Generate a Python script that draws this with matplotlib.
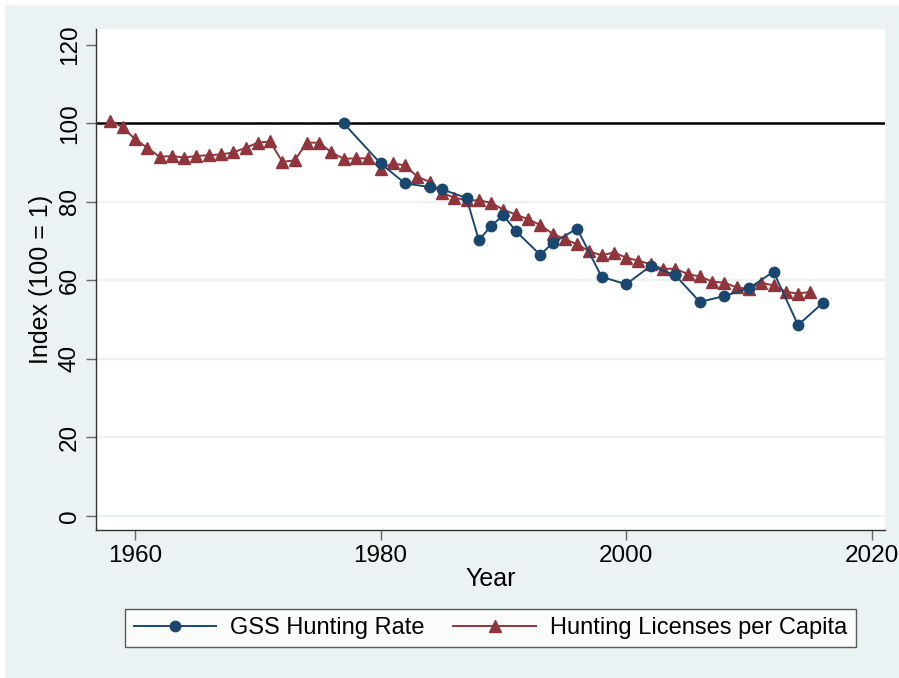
import matplotlib.pyplot as plt
from matplotlib.patches import Rectangle

# GSS hunting rate (index, first year = 100)
gss_years = [1977, 1980, 1982, 1984, 1985, 1987, 1988, 1989, 1990, 1991, 1993, 1994,
             1996, 1998, 2000, 2002, 2004, 2006, 2008, 2010, 2012, 2014, 2016]
gss_index = [100.0, 89.8, 84.7, 83.8, 83.2, 81.0, 70.2, 73.9, 76.6, 72.6, 66.5, 69.5,
             73.2, 60.9, 59.0, 63.7, 61.3, 54.5, 56.0, 58.0, 62.2, 48.6, 54.2]

# Hunting licenses per capita (index)
lic_years = list(range(1958, 2016))
lic_index = [100.6, 99.0, 96.0, 93.8, 91.5, 91.7, 91.3, 91.7, 91.9, 92.1,
             92.6, 93.8, 95.1, 95.4, 90.2, 90.6, 95.1, 95.1, 92.6, 91.0,
             91.1, 91.1, 88.5, 89.8, 89.3, 86.4, 85.1, 82.3, 81.1, 80.4,
             80.4, 79.8, 78.0, 76.8, 75.6, 74.1, 71.9, 70.5, 69.2, 67.4,
             66.4, 67.1, 65.8, 65.0, 64.1, 62.9, 63.0, 61.6, 61.0, 59.7,
             59.4, 58.2, 57.8, 59.4, 58.7, 57.1, 56.6, 57.1]

navy = "#1a476f"
maroon = "#90353b"
bg = "#eaf2f3"

plt.rcParams["font.family"] = ["Liberation Sans", "DejaVu Sans"]

fig = plt.figure(figsize=(8.99, 6.78), dpi=100)
fig.patch.set_facecolor("white")
fig.patches.append(Rectangle((5 / 899, 0), 1, 1 - 5 / 678, transform=fig.transFigure,
                             facecolor=bg, edgecolor="none", zorder=-10))

ax = fig.add_axes([96 / 899, 1 - 530 / 678, (885 - 96) / 899, (530 - 29.3) / 678])
ax.set_facecolor("white")

# grid lines
for g in [0, 20, 40, 60, 80]:
    ax.axhline(g, color=bg, lw=1.6, zorder=0)
ax.axhline(100, color="black", lw=1.8, zorder=1)

ax.plot(gss_years, gss_index, color=navy, lw=1.4, marker="o", ms=7.5,
        label="GSS Hunting Rate", zorder=3)
ax.plot(lic_years, lic_index, color=maroon, lw=1.4, marker="^", ms=9,
        label="Hunting Licenses per Capita", zorder=2)

ax.set_xlim(1956.82, 2021.08)
ax.set_ylim(-3.64, 124.0)
ax.set_xticks([1960, 1980, 2000, 2020])
ax.set_yticks([0, 20, 40, 60, 80, 100, 120])

for s in ["top", "right"]:
    ax.spines[s].set_visible(False)
for s in ["left", "bottom"]:
    ax.spines[s].set_color("#333333")
    ax.spines[s].set_linewidth(1.0)

ax.tick_params(axis="both", direction="out", length=7, width=1, color="#666666",
               labelsize=17.5, pad=4)
plt.setp(ax.get_yticklabels(), rotation=90, va="center")

ax.set_xlabel("Year", fontsize=18, labelpad=0)
ax.set_ylabel("Index (100 = 1)", fontsize=18, labelpad=4)

leg = ax.legend(loc="center", bbox_to_anchor=(0.5, -0.196), ncol=2, fontsize=17,
                frameon=True, fancybox=False, edgecolor="#333333", handlelength=3.5,
                columnspacing=1.2, borderpad=0.35, handletextpad=0.6, borderaxespad=0)
leg.get_frame().set_linewidth(1.0)
leg.get_frame().set_facecolor("white")

fig.savefig("out.png", dpi=100)
